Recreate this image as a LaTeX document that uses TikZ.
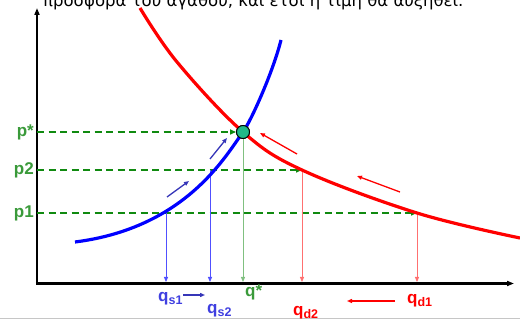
\documentclass[tikz,border=0pt]{standalone}
\usepackage{fontspec}
\setmainfont{Liberation Sans}
\newfontfamily\greekfont{DejaVu Sans}
\usetikzlibrary{arrows.meta}
\definecolor{curveblue}{HTML}{0000FF}
\definecolor{lightblue}{HTML}{5050FF}
\definecolor{arrblue}{HTML}{3636B8}
\definecolor{lblblue}{HTML}{3F3FE0}
\definecolor{dgreen}{HTML}{108A10}
\definecolor{lblgreen}{HTML}{3A9A3A}
\definecolor{lightgreen}{HTML}{80C080}
\definecolor{curvered}{HTML}{FF0000}
\definecolor{lightred}{HTML}{FF7070}
\definecolor{dotfill}{HTML}{20B888}
\newcommand{\qsub}[1]{\raisebox{-0.3ex}{\fontsize{12.5}{12.5}\selectfont #1}}
\begin{document}
\begin{tikzpicture}[x=1pt,y=-1pt,
  axisline/.style={line width=2.2pt,-{Triangle[length=7pt,width=5pt]}},
  pdash/.style={dgreen,line width=1.8pt,dash pattern=on 7pt off 4.5pt,-{Triangle[length=6pt,width=5pt]}},
  drop/.style={line width=0.8pt,-{Triangle[length=5pt,width=4pt]}},
  curve/.style={line width=3.2pt},
  hint/.style={line width=1.3pt,-{Triangle[length=5pt,width=4pt]}},
  plbl/.style={lblgreen,font=\fontsize{17}{17}\selectfont\bfseries,anchor=east,inner sep=0pt},
  qlbl/.style={font=\fontsize{17}{17}\selectfont\bfseries,inner sep=0pt},
  eqdot/.style={circle,draw=black,fill=dotfill,line width=0.9pt,minimum size=13pt,inner sep=0pt}
]
\useasboundingbox (0,0) rectangle (520,320);
\clip (0,0) rectangle (520,320);
% title text (cut off at the top)
\node[anchor=base west,inner sep=0pt,font=\greekfont\fontsize{16.5}{17}\selectfont] (title) at (43,7) {προσφορά του αγαθού, και έτσι η τιμή θα αυξηθεί.};
% bottom border line
\coordinate (bl) at (0,318.5); \coordinate (br) at (520,318.5);
\draw[gray!45,line width=1pt] (bl) -- (br);
% axes
\coordinate (O) at (37,283.5);
\coordinate (Ytop) at (37,8);
\coordinate (Xend) at (514,283.5);
\draw[axisline] (O) -- (Ytop);
\draw[axisline] ([xshift=-1.1pt]O) -- (Xend);
% points
\coordinate (A1) at (37,213);  \coordinate (A2) at (37,170);  \coordinate (A3) at (37,132);
\coordinate (S1) at (166,213); \coordinate (S2) at (210,170);
\coordinate (D2) at (302,170); \coordinate (D1) at (417,213);
\coordinate (bS1) at (166,282); \coordinate (bS2) at (210,282); \coordinate (bQ) at (243,282);
\coordinate (bD2) at (302,282); \coordinate (bD1) at (417,282);
% equilibrium dot
\node[eqdot] (E) at (243,132) {};
% dashed price lines
\draw[pdash] (A1) -- (D1);
\draw[pdash] (A2) -- (D2);
\draw[pdash] (A3) -- (E.west);
% drop lines
\draw[drop,lightblue] (S1) -- (bS1);
\draw[drop,lightblue] (S2) -- (bS2);
\draw[drop,lightgreen] (E.south) -- (bQ);
\draw[drop,lightred] (D2) -- (bD2);
\draw[drop,lightred] (D1) -- (bD1);
% curves
\coordinate (sA) at (75,242); \coordinate (sB) at (281,40);
\draw[curve,curveblue] (sA) .. controls (185,228) and (225,157) .. (E.center)
                            .. controls (251,121) and (273,72) .. (sB);
\draw[curve,curvered] plot[smooth,tension=0.6] coordinates {(140,8) (177,62) (243,132) (302,170) (417,213) (520,238)};
\node[eqdot] at (E) {};
% hint arrows
\coordinate (h1a) at (167,197); \coordinate (h1b) at (189,181);
\coordinate (h2a) at (210,159); \coordinate (h2b) at (227,138);
\coordinate (h3a) at (297,154); \coordinate (h3b) at (260,133);
\coordinate (h4a) at (400,192); \coordinate (h4b) at (357,176);
\draw[hint,arrblue] (h1a) -- (h1b);
\draw[hint,arrblue] (h2a) -- (h2b);
\draw[hint,curvered] (h3a) -- (h3b);
\draw[hint,curvered] (h4a) -- (h4b);
% price labels
\node[plbl] (pstar) at (34,132) {p*};
\node[plbl] (p2) at (34,170) {p2};
\node[plbl] (p1) at (34,213) {p1};
% quantity labels
\node[qlbl,lblblue,anchor=base west] (qs1) at (158,302) {q\qsub{s1}};
\node[qlbl,lblblue,anchor=base west] (qs2) at (207,314) {q\qsub{s2}};
\node[qlbl,lblgreen,anchor=base west] (qstar) at (245,297) {q*};
\node[qlbl,curvered,anchor=base west] (qd2) at (293,316) {q\qsub{d2}};
\node[qlbl,curvered,anchor=base west] (qd1) at (407,304) {q\qsub{d1}};
\coordinate (bh1a) at (183,295); \coordinate (bh1b) at (205,295);
\coordinate (bh2a) at (395,301); \coordinate (bh2b) at (347,301);
\draw[hint,arrblue] (bh1a) -- (bh1b);
\draw[hint,curvered] (bh2a) -- (bh2b);
\end{tikzpicture}
\end{document}
